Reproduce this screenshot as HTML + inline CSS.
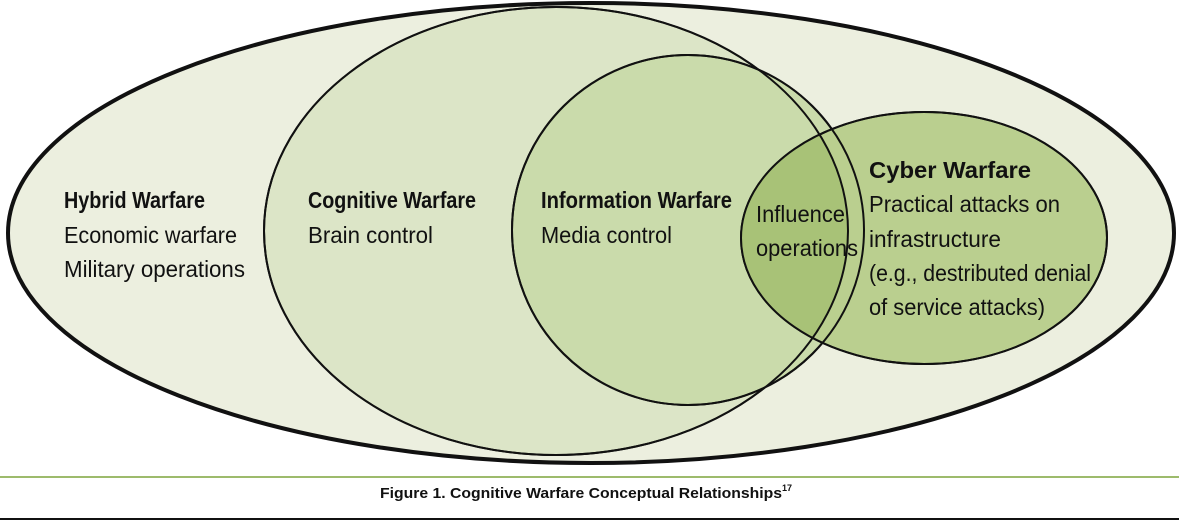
<!DOCTYPE html>
<html><head><meta charset="utf-8"><style>
html,body{margin:0;padding:0;background:#fff;width:1179px;height:523px;overflow:hidden}
</style></head><body>
<svg width="1179" height="523" viewBox="0 0 1179 523" xmlns="http://www.w3.org/2000/svg" font-family="'Liberation Sans Narrow','Liberation Sans',sans-serif">
<defs>
<clipPath id="ci"><ellipse cx="688" cy="230" rx="176" ry="175"/></clipPath>
<clipPath id="cc"><ellipse cx="556" cy="231" rx="292" ry="224"/></clipPath>
</defs>
<ellipse cx="591" cy="233" rx="583" ry="230" fill="#ecefdf" stroke="#111" stroke-width="4"/>
<ellipse cx="556" cy="231" rx="292" ry="224" fill="#dce5c7" stroke="#111" stroke-width="2"/>
<ellipse cx="688" cy="230" rx="176" ry="175" fill="#cadbab" stroke="#111" stroke-width="2"/>
<ellipse cx="924" cy="238" rx="183" ry="126" fill="#bacf8f" stroke="#111" stroke-width="2"/>
<g clip-path="url(#cc)"><ellipse cx="924" cy="238" rx="183" ry="126" fill="#a8c277"/></g>
<ellipse cx="924" cy="238" rx="183" ry="126" fill="none" stroke="#111" stroke-width="2"/>
<ellipse cx="556" cy="231" rx="292" ry="224" fill="none" stroke="#111" stroke-width="2"/>
<ellipse cx="688" cy="230" rx="176" ry="175" fill="none" stroke="#111" stroke-width="2"/>
<g font-size="23" fill="#111">
<text x="64" y="208" font-weight="bold" textLength="141" lengthAdjust="spacingAndGlyphs">Hybrid Warfare</text>
<text x="64" y="243" textLength="173" lengthAdjust="spacingAndGlyphs">Economic warfare</text>
<text x="64" y="277" textLength="181" lengthAdjust="spacingAndGlyphs">Military operations</text>
<text x="308" y="208" font-weight="bold" textLength="168" lengthAdjust="spacingAndGlyphs">Cognitive Warfare</text>
<text x="308" y="243" textLength="125" lengthAdjust="spacingAndGlyphs">Brain control</text>
<text x="541" y="208" font-weight="bold" textLength="191" lengthAdjust="spacingAndGlyphs">Information Warfare</text>
<text x="541" y="243" textLength="131" lengthAdjust="spacingAndGlyphs">Media control</text>
<text x="756" y="222" textLength="89" lengthAdjust="spacingAndGlyphs">Influence</text>
<text x="756" y="256" textLength="102" lengthAdjust="spacingAndGlyphs">operations</text>
<text x="869" y="178" font-weight="bold" textLength="162" lengthAdjust="spacingAndGlyphs">Cyber Warfare</text>
<text x="869" y="212" textLength="191" lengthAdjust="spacingAndGlyphs">Practical attacks on</text>
<text x="869" y="247" textLength="132" lengthAdjust="spacingAndGlyphs">infrastructure</text>
<text x="869" y="281" textLength="222" lengthAdjust="spacingAndGlyphs">(e.g., destributed denial</text>
<text x="869" y="315" textLength="176" lengthAdjust="spacingAndGlyphs">of service attacks)</text>
</g>
<rect x="0" y="476" width="1179" height="2" fill="#9dbb6c"/>
<text x="380" y="498" font-size="15" font-weight="bold" fill="#111" textLength="402" lengthAdjust="spacingAndGlyphs">Figure 1. Cognitive Warfare Conceptual Relationships</text>
<text x="782" y="491" font-size="9" font-weight="bold" fill="#111">17</text>
<rect x="0" y="518" width="1179" height="2" fill="#111"/>
</svg>
</body></html>
